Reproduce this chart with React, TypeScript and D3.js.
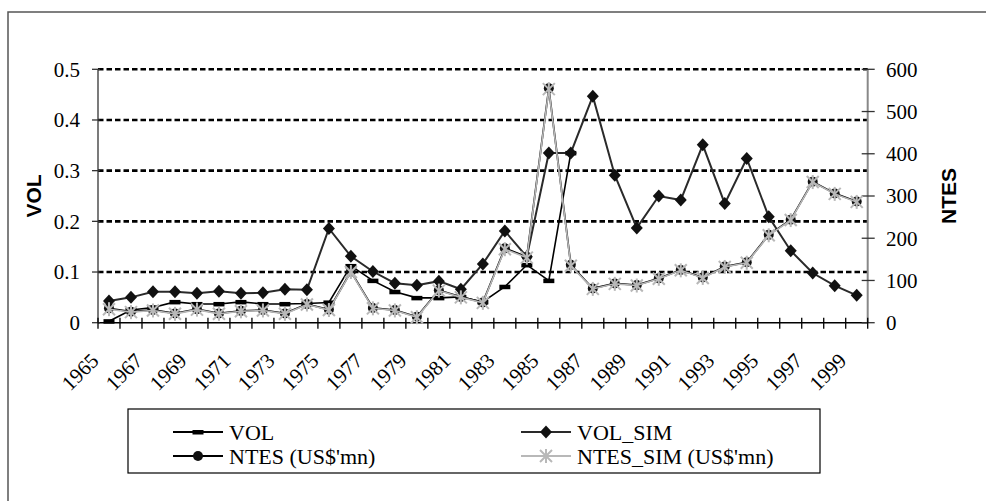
import React from "react";
import * as d3 from "d3";

const years: number[] = [
  1965, 1966, 1967, 1968, 1969, 1970, 1971, 1972, 1973, 1974, 1975, 1976,
  1977, 1978, 1979, 1980, 1981, 1982, 1983, 1984, 1985, 1986, 1987, 1988,
  1989, 1990, 1991, 1992, 1993, 1994, 1995, 1996, 1997, 1998, 1999,
];

const volValues: (number | null)[] = [
  0.003, 0.025, 0.03, 0.041, 0.037, 0.037, 0.041, 0.037, 0.037, 0.038, 0.04,
  0.112, 0.083, 0.061, 0.049, 0.049, 0.051, 0.041, 0.071, 0.114, 0.083, 0.335,
  null, null, null, null, null, null, null, null, null, null, null, null, null,
];

const volSimValues: number[] = [
  0.043, 0.05, 0.061, 0.061, 0.058, 0.062, 0.058, 0.059, 0.066, 0.065, 0.186,
  0.131, 0.101, 0.078, 0.074, 0.082, 0.066, 0.116, 0.181, 0.13, 0.335, 0.335,
  0.447, 0.291, 0.187, 0.25, 0.242, 0.351, 0.235, 0.324, 0.209, 0.142, 0.098,
  0.073, 0.054,
];

const ntesValues: number[] = [
  34, 26, 30, 22, 32, 22, 28, 30, 22, 44, 31, 121, 35, 30, 14, 77, 61, 48, 176,
  156, 555, 137, 81, 93, 89, 105, 125, 107, 133, 143, 208, 244, 334, 306, 287,
];

const ntesSimValues: number[] = [
  32, 25, 29, 21, 31, 21, 27, 29, 21, 43, 30, 120, 34, 29, 13, 76, 60, 47, 174,
  154, 553, 135, 80, 92, 88, 104, 124, 106, 132, 142, 207, 243, 333, 305, 286,
];

const volTicks: number[] = [0, 0.1, 0.2, 0.3, 0.4, 0.5];
const ntesTicks: number[] = [0, 100, 200, 300, 400, 500, 600];
const yearLabels: number[] = years.filter((_, i) => i % 2 === 0);

const legendItems = [
  { key: "VOL", label: "VOL", col: 0, row: 0 },
  { key: "VOL_SIM", label: "VOL_SIM", col: 1, row: 0 },
  { key: "NTES", label: "NTES (US$'mn)", col: 0, row: 1 },
  { key: "NTES_SIM", label: "NTES_SIM  (US$'mn)", col: 1, row: 1 },
];

const SERIF = "'Liberation Serif', 'Times New Roman', serif";
const SANS = "'Liberation Sans', Arial, sans-serif";

const W = 986;
const H = 501;
const plotL = 98;
const plotR = 867.7;
const plotT = 69.3;
const plotB = 322.7;

const x = d3.scaleBand<number>().domain(years).range([plotL, plotR]);
const bw = x.bandwidth();
const cx = (yr: number) => (x(yr) as number) + bw / 2;
const yL = d3.scaleLinear().domain([0, 0.5]).range([plotB, plotT]);
const yR = d3.scaleLinear().domain([0, 600]).range([plotB, plotT]);

type Pt = { yr: number; v: number | null };
const toPts = (vals: (number | null)[]): Pt[] =>
  years.map((yr, i) => ({ yr, v: vals[i] }));

const lineL = d3
  .line<Pt>()
  .defined((d) => d.v != null)
  .x((d) => cx(d.yr))
  .y((d) => yL(d.v as number));
const lineR = d3
  .line<Pt>()
  .defined((d) => d.v != null)
  .x((d) => cx(d.yr))
  .y((d) => yR(d.v as number));

const GRAY = "#b8b8b8";

function Marker({ kind, px, py }: { kind: string; px: number; py: number }) {
  if (kind === "VOL")
    return <rect x={px - 5.5} y={py - 2} width={11} height={4.5} fill="#000" />;
  if (kind === "VOL_SIM")
    return (
      <path
        d={`M${px},${py - 6.5}L${px + 6},${py}L${px},${py + 6.5}L${px - 6},${py}Z`}
        fill="#111"
      />
    );
  if (kind === "NTES") return <circle cx={px} cy={py} r={5} fill="#111" />;
  const s = 6;
  return (
    <g stroke={GRAY} strokeWidth={2}>
      <line x1={px - s} y1={py - s} x2={px + s} y2={py + s} />
      <line x1={px - s} y1={py + s} x2={px + s} y2={py - s} />
      <line x1={px} y1={py - s - 1} x2={px} y2={py + s + 1} />
    </g>
  );
}

export default function App() {
  const volPts = toPts(volValues);
  const volSimPts = toPts(volSimValues);
  const ntesPts = toPts(ntesValues);
  const ntesSimPts = toPts(ntesSimValues);

  const legX = 128;
  const legY = 409;
  const legW = 692;
  const legH = 64;
  const colX = [173, 521];
  const rowY = [432, 456];

  return (
    <svg
      width={W}
      height={H}
      style={{ position: "absolute", left: 0, top: 0, background: "#fff" }}
    >
      <rect x={0} y={0} width={W} height={H} fill="#fff" />
      {/* chart frame */}
      <rect
        x={8}
        y={12}
        width={1200}
        height={800}
        fill="none"
        stroke="#555"
        strokeWidth={1.5}
      />

      {/* gridlines */}
      {volTicks
        .filter((t) => t > 0)
        .map((t) => (
          <line
            key={"g" + t}
            x1={plotL}
            x2={plotR}
            y1={yL(t)}
            y2={yL(t)}
            stroke="#000"
            strokeWidth={2.6}
            strokeDasharray="5.5,3"
          />
        ))}

      {/* axes */}
      <line x1={plotL} x2={plotL} y1={plotT} y2={plotB} stroke="#333" strokeWidth={1.3} />
      <line x1={plotR} x2={plotR} y1={plotT} y2={plotB} stroke="#888" strokeWidth={2} />
      <line x1={plotL} x2={plotR} y1={plotB} y2={plotB} stroke="#000" strokeWidth={1.5} />

      {volTicks.map((t) => (
        <g key={"lt" + t}>
          <line x1={plotL - 6} x2={plotL + 2} y1={yL(t)} y2={yL(t)} stroke="#333" strokeWidth={1.3} />
          <text
            x={80}
            y={yL(t)}
            dy="0.35em"
            textAnchor="end"
            fontFamily={SERIF}
            fontSize={21}
            fill="#000"
          >
            {t === 0 ? "0" : t.toFixed(1)}
          </text>
        </g>
      ))}
      {ntesTicks.map((t) => (
        <g key={"rt" + t}>
          <line x1={plotR - 6} x2={plotR + 7} y1={yR(t)} y2={yR(t)} stroke="#333" strokeWidth={1.3} />
          <text
            x={886}
            y={yR(t)}
            dy="0.35em"
            textAnchor="start"
            fontFamily={SERIF}
            fontSize={21}
            fill="#000"
          >
            {t}
          </text>
        </g>
      ))}
      {years.map((yr) => (
        <line
          key={"xt" + yr}
          x1={x(yr) as number}
          x2={x(yr) as number}
          y1={plotB - 5}
          y2={plotB + 6}
          stroke="#000"
          strokeWidth={1.3}
        />
      ))}
      <line x1={plotR} x2={plotR} y1={plotB - 5} y2={plotB + 6} stroke="#000" strokeWidth={1.3} />

      {yearLabels.map((yr) => {
        const px = cx(yr) - 9;
        const py = 362;
        return (
          <text
            key={"xl" + yr}
            x={px}
            y={py}
            transform={`rotate(-45 ${px} ${py})`}
            textAnchor="end"
            fontFamily={SERIF}
            fontSize={21}
            fill="#000"
          >
            {yr}
          </text>
        );
      })}

      {/* axis titles */}
      <text
        transform={`translate(41,${(plotT + plotB) / 2}) rotate(-90)`}
        textAnchor="middle"
        fontFamily={SANS}
        fontWeight="bold"
        fontSize={21}
        fill="#000"
      >
        VOL
      </text>
      <text
        transform={`translate(956,${(plotT + plotB) / 2}) rotate(-90)`}
        textAnchor="middle"
        fontFamily={SANS}
        fontWeight="bold"
        fontSize={21}
        fill="#000"
      >
        NTES
      </text>

      {/* series */}
      <path d={lineL(volPts) || ""} fill="none" stroke="#000" strokeWidth={1.6} />
      {volPts
        .filter((d) => d.v != null)
        .map((d) => (
          <Marker key={"m1" + d.yr} kind="VOL" px={cx(d.yr)} py={yL(d.v as number)} />
        ))}
      <path d={lineL(volSimPts) || ""} fill="none" stroke="#2a2a2a" strokeWidth={2} />
      {volSimPts.map((d) => (
        <Marker key={"m2" + d.yr} kind="VOL_SIM" px={cx(d.yr)} py={yL(d.v as number)} />
      ))}
      <path d={lineR(ntesPts) || ""} fill="none" stroke="#000" strokeWidth={1.8} />
      {ntesPts.map((d) => (
        <Marker key={"m3" + d.yr} kind="NTES" px={cx(d.yr)} py={yR(d.v as number)} />
      ))}
      <path d={lineR(ntesSimPts) || ""} fill="none" stroke={GRAY} strokeWidth={1.6} />
      {ntesSimPts.map((d) => (
        <Marker key={"m4" + d.yr} kind="NTES_SIM" px={cx(d.yr)} py={yR(d.v as number)} />
      ))}

      {/* legend */}
      <rect x={legX} y={legY} width={legW} height={legH} fill="#fff" stroke="#000" strokeWidth={1.2} />
      {legendItems.map((it) => {
        const lx = colX[it.col];
        const ly = rowY[it.row];
        const stroke =
          it.key === "NTES_SIM" ? GRAY : it.key === "VOL_SIM" ? "#2a2a2a" : "#000";
        return (
          <g key={it.key}>
            <line x1={lx} x2={lx + 50} y1={ly} y2={ly} stroke={stroke} strokeWidth={2} />
            <Marker kind={it.key} px={lx + 25} py={ly} />
            <text
              x={lx + 56}
              y={ly}
              dy="0.35em"
              fontFamily={SERIF}
              fontSize={22}
              fill="#000"
            >
              {it.label}
            </text>
          </g>
        );
      })}
    </svg>
  );
}
